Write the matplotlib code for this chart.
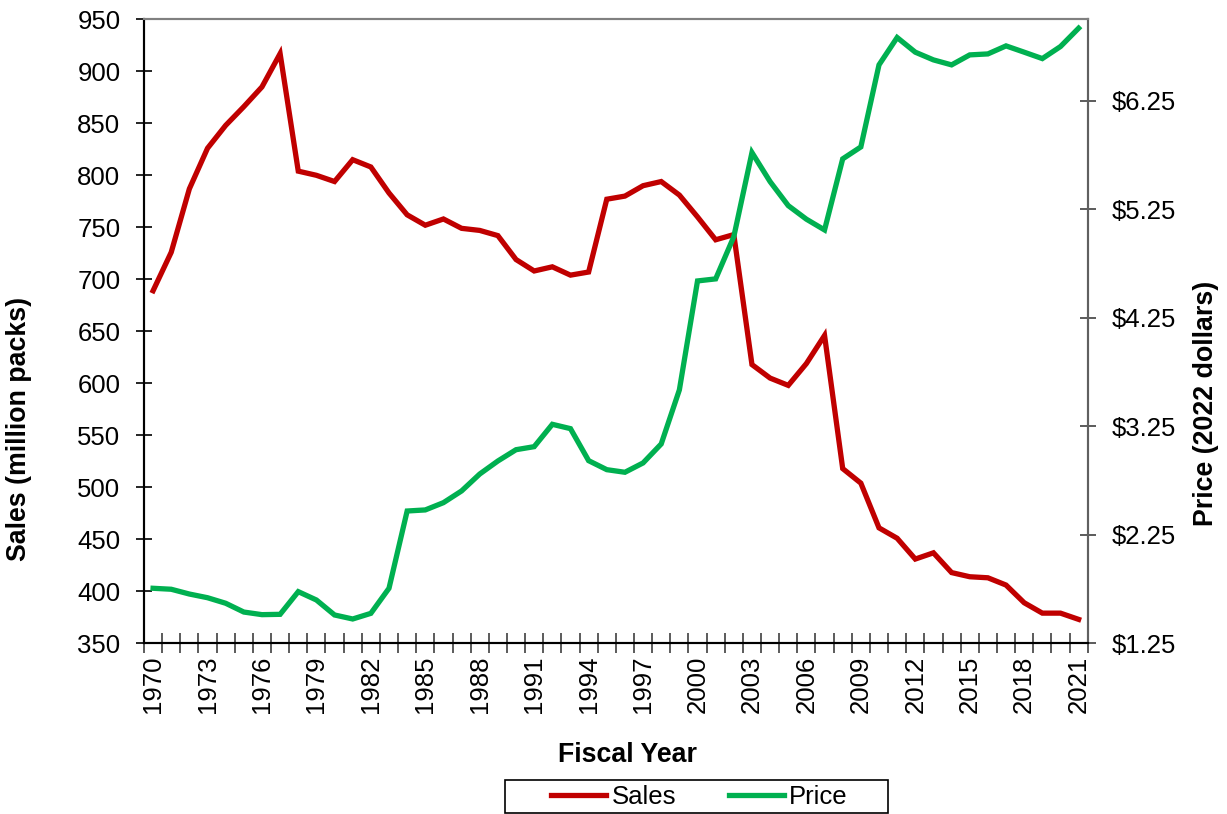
import matplotlib
matplotlib.use("Agg")
import matplotlib.pyplot as plt
from matplotlib.patches import Rectangle
from matplotlib.ticker import FixedLocator, NullFormatter, FuncFormatter

plt.rcParams['font.family'] = ['Liberation Sans', 'DejaVu Sans']

years = list(range(1970, 2022))
sales = [689, 726, 787, 826, 848, 866, 885, 917, 804, 800,
         794, 815, 808, 783, 762, 752, 758, 749, 747, 742,
         719, 708, 712, 704, 707, 777, 780, 790, 794, 781,
         760, 738, 743, 618, 605, 598, 619, 646, 518, 504,
         461, 451, 431, 437, 418, 414, 413, 406, 389, 379,
         379, 373]
price = [1.757, 1.748, 1.704, 1.670, 1.619, 1.538, 1.514, 1.517, 1.726, 1.649,
         1.511, 1.474, 1.526, 1.757, 2.469, 2.479, 2.546, 2.654, 2.810, 2.930,
         3.034, 3.062, 3.268, 3.228, 2.933, 2.850, 2.826, 2.912, 3.087, 3.585,
         4.589, 4.608, 4.997, 5.772, 5.504, 5.283, 5.158, 5.059, 5.714, 5.824,
         6.580, 6.832, 6.697, 6.626, 6.580, 6.672, 6.681, 6.755, 6.697, 6.638,
         6.749, 6.918]
sales_ticks = list(range(350, 951, 50))
price_ticks = [1.25, 2.25, 3.25, 4.25, 5.25, 6.25]
label_years = list(range(1970, 2022, 3))

RED = '#C00000'
GREEN = '#00B050'
FS = 18.5
LFS = 19.3

fig = plt.figure(figsize=(12.27, 8.14), dpi=100)
W, H = 1227, 814
ax = fig.add_axes([144 / W, (H - 643.3) / H, (1087.7 - 144) / W, (643.3 - 19.3) / H])
ax2 = ax.twinx()

x = list(range(len(years)))
l1, = ax.plot(x, sales, color=RED, lw=3.8, solid_joinstyle='miter', label='Sales', zorder=3)
l2, = ax2.plot(x, price, color=GREEN, lw=3.8, solid_joinstyle='miter', label='Price', zorder=3)

ax.set_xlim(-0.5, len(years) - 0.5)
ax.set_ylim(350, 950)
ax2.set_ylim(1.25, 7.0)

# x ticks: marks at category boundaries, labels every 3rd year
ax.xaxis.set_major_locator(FixedLocator([i - 0.5 for i in range(len(years) + 1)]))
ax.xaxis.set_major_formatter(NullFormatter())
lab_pos = [years.index(y) for y in label_years]
ax.xaxis.set_minor_locator(FixedLocator(lab_pos))
ax.xaxis.set_minor_formatter(FuncFormatter(lambda v, p: str(years[int(round(v))])))
ax.tick_params(axis='x', which='major', direction='inout', length=14, width=1.2, color='#404040')
ax.tick_params(axis='x', which='minor', length=0, pad=9, labelsize=FS, labelrotation=90)

ax.set_yticks(sales_ticks)
ax.tick_params(axis='y', direction='inout', length=12, width=1.2, color='black', labelsize=FS, pad=11)

ax2.set_yticks(price_ticks)
ax2.yaxis.set_major_formatter(FuncFormatter(lambda v, p: f'${v:.2f}'))
ax2.tick_params(axis='y', direction='inout', length=12, width=1.2, color='#404040', labelsize=FS, pad=11)

for a in (ax, ax2):
    a.spines['left'].set_color('black')
    a.spines['bottom'].set_color('black')
    a.spines['top'].set_color('#808080')
    a.spines['right'].set_color('#606060')
    for s in a.spines.values():
        s.set_linewidth(1.5)

ax.set_xlabel('Fiscal Year', fontsize=LFS, fontweight='bold')
ax.xaxis.set_label_coords(0.512, -0.158)
ax.set_ylabel('Sales (million packs)', fontsize=LFS, fontweight='bold')
ax.yaxis.set_label_coords(-0.119, 0.343)
ax2.set_ylabel('Price (2022 dollars)', fontsize=LFS, fontweight='bold')
ax2.yaxis.set_label_coords(1.1116, 0.385)

# legend box (fixed frame like the reference) and entries
fig.patches.append(Rectangle((505 / W, (H - 813) / H), (888 - 505) / W, (813 - 780) / H,
                             transform=fig.transFigure, fill=False, edgecolor='black',
                             linewidth=1.2))
leg = fig.legend(handles=[l1, l2], labels=['Sales', 'Price'], loc='center',
                 bbox_to_anchor=(699.5 / W, (H - 797) / H), ncol=2, fontsize=FS,
                 frameon=False, handlelength=2.14, handletextpad=0.2,
                 columnspacing=2.06, borderpad=0.0)

fig.savefig('out.png', dpi=100)
